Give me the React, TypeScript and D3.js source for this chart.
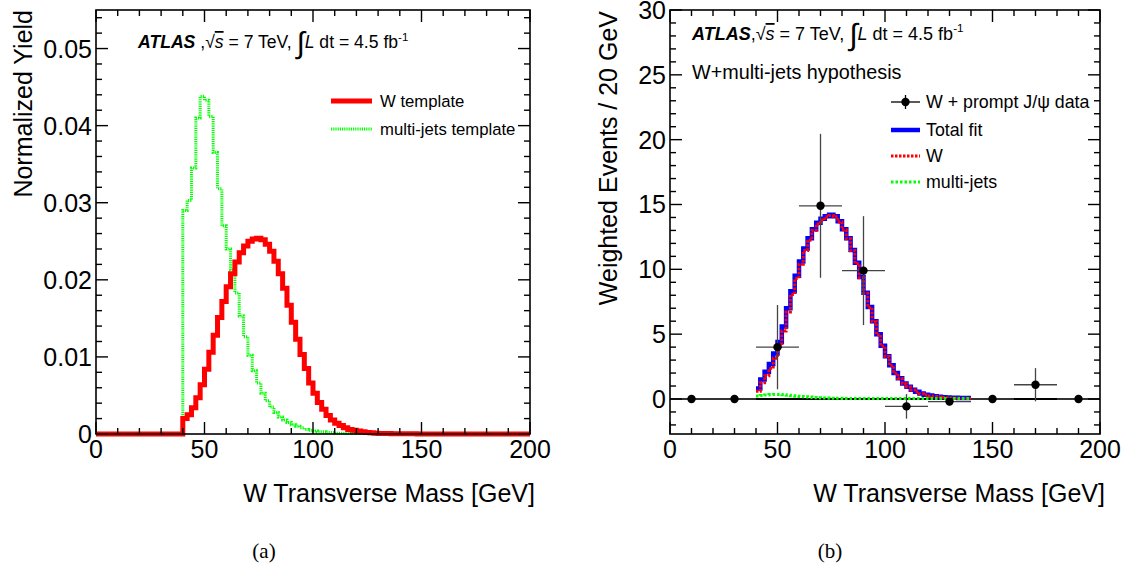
import React from 'react';
import * as d3 from 'd3';

const FONT = '"Liberation Sans", Arial, Helvetica, sans-serif';
const SERIF = '"Liberation Serif", "Times New Roman", serif';

// ---------- Panel (a): normalized templates, 2 GeV bins starting at 40 GeV ----------
const templateStart = 40;
const templateWidth = 2;
const wTemplate = [
  0.0020, 0.0025, 0.0034, 0.0047, 0.0064, 0.0084, 0.0106, 0.0128, 0.0151, 0.0172,
  0.0191, 0.0208, 0.0223, 0.0235, 0.0244, 0.0250, 0.0253, 0.0254, 0.0252, 0.0246,
  0.0237, 0.0224, 0.0208, 0.0189, 0.0167, 0.0145, 0.0123, 0.0103, 0.0085, 0.0066,
  0.0053, 0.0041, 0.0032, 0.0024, 0.0018, 0.0014, 0.0011, 0.0008, 0.0006, 0.0005,
  0.0004, 0.0003, 0.0002, 0.00015, 0.0001, 0.00008, 0.00006, 0.00005, 0.00004, 0.00003,
  0.00003, 0.00002, 0.00002, 0.00002, 0.00001, 0.00001, 0.00001, 0.00001, 0, 0,
  0, 0, 0, 0, 0, 0, 0, 0, 0, 0,
  0, 0, 0, 0, 0, 0, 0, 0, 0, 0,
];
const multijetTemplate = [
  0.0290, 0.0303, 0.0345, 0.0410, 0.0438, 0.0433, 0.0412, 0.0365, 0.0318, 0.0270,
  0.0240, 0.0213, 0.0183, 0.0153, 0.0126, 0.0102, 0.0082, 0.0066, 0.0053, 0.0043,
  0.0035, 0.0028, 0.0022, 0.0018, 0.0015, 0.0012, 0.0010, 0.0008, 0.0006, 0.0005,
  0.0004, 0.0003, 0.0003, 0.0002, 0.0002, 0.0001, 0.0001, 0.0001, 0.0001, 0.00008,
  0.00006, 0.00005, 0.00005, 0.00004, 0.00004, 0.00003, 0.00003, 0.00003, 0.00002, 0.00002,
  0.00002, 0.00002, 0.00002, 0.00001, 0.00001, 0.00001, 0.00001, 0.00001, 0.00001, 0.00001,
  0.00001, 0.00001, 0.00001, 0.00001, 0.00001, 0, 0, 0, 0, 0,
  0, 0, 0, 0, 0, 0, 0, 0, 0, 0,
];
const yieldTicks = [0, 0.01, 0.02, 0.03, 0.04, 0.05];
const yieldTickLabels = ['0', '0.01', '0.02', '0.03', '0.04', '0.05'];

// ---------- Panel (b): fit result, 2 GeV bins from 40 to 140 GeV ----------
const fitStart = 40;
const fitWidth = 2;
const fitTotal = [
  0.8, 1.5, 2.1, 2.7, 3.5, 4.4, 5.6, 7.0, 8.3, 9.5,
  10.6, 11.6, 12.4, 13.1, 13.6, 13.9, 14.1, 14.2, 14.1, 13.7,
  13.1, 12.4, 11.5, 10.5, 9.4, 8.2, 7.1, 6.0, 5.0, 4.1,
  3.3, 2.6, 2.0, 1.6, 1.2, 0.95, 0.72, 0.55, 0.42, 0.33,
  0.26, 0.21, 0.17, 0.14, 0.12, 0.10, 0.09, 0.08, 0.07, 0.07,
];
const fitW = [
  0.6, 1.25, 1.8, 2.35, 3.15, 4.05, 5.25, 6.7, 8.05, 9.3,
  10.4, 11.45, 12.25, 13.0, 13.5, 13.8, 14.05, 14.15, 14.05, 13.65,
  13.05, 12.35, 11.45, 10.45, 9.35, 8.15, 7.05, 5.95, 4.95, 4.07,
  3.27, 2.58, 1.98, 1.58, 1.18, 0.93, 0.70, 0.53, 0.40, 0.31,
  0.24, 0.19, 0.15, 0.12, 0.10, 0.08, 0.07, 0.06, 0.05, 0.05,
];
const fitMultijets = [
  0.24, 0.27, 0.31, 0.34, 0.35, 0.35, 0.33, 0.29, 0.25, 0.22,
  0.19, 0.17, 0.15, 0.12, 0.10, 0.08, 0.07, 0.06, 0.05, 0.05,
  0.04, 0.04, 0.04, 0.04, 0.04, 0.04, 0.04, 0.04, 0.04, 0.04,
  0.04, 0.04, 0.04, 0.04, 0.04, 0.04, 0.04, 0.04, 0.04, 0.04,
  0.04, 0.04, 0.04, 0.04, 0.04, 0.04, 0.04, 0.04, 0.04, 0.04,
];
const dataMass = [10, 30, 50, 70, 90, 110, 130, 150, 170, 190];
const dataEvents = [0, 0, 4.0, 14.9, 9.9, -0.57, -0.2, 0, 1.1, 0];
const dataError = [0, 0, 3.25, 5.55, 4.2, 0.95, 0.3, 0, 1.28, 0];
const dataHalfWidth = 10;
const eventTicks = [0, 5, 10, 15, 20, 25, 30];
const massTicks = [0, 50, 100, 150, 200];

type Scale = d3.ScaleLinear<number, number>;

function stepPath(values: number[], start: number, width: number, x: Scale, y: Scale, padFrom?: number, padTo?: number) {
  const pts: [number, number][] = [];
  if (padFrom !== undefined) {
    pts.push([x(padFrom), y(0)], [x(start), y(0)]);
  }
  values.forEach((v, i) => {
    pts.push([x(start + i * width), y(v)], [x(start + (i + 1) * width), y(v)]);
  });
  if (padTo !== undefined) {
    const end = start + values.length * width;
    pts.push([x(end), y(0)], [x(padTo), y(0)]);
  }
  return d3.line()(pts) || '';
}

function Frame({ x, y, yMajor, yMinor, yLabels }: { x: Scale; y: Scale; yMajor: number[]; yMinor: number[]; yLabels: string[] }) {
  const [x0, x1] = x.range();
  const [y0, y1] = y.range(); // y0 bottom, y1 top
  const major = 12;
  const minor = 6;
  const xMinor = d3.range(0, 201, 10);
  const sw = 1.4;
  return (
    <g>
      <rect x={x0} y={y1} width={x1 - x0} height={y0 - y1} fill="none" stroke="#000" strokeWidth={1.6} />
      {xMinor.map((v) => {
        const isMajor = v % 50 === 0;
        const L = isMajor ? major : minor;
        return (
          <g key={'xt' + v}>
            <line x1={x(v)} x2={x(v)} y1={y0} y2={y0 - L} stroke="#000" strokeWidth={sw} />
            <line x1={x(v)} x2={x(v)} y1={y1} y2={y1 + L} stroke="#000" strokeWidth={sw} />
          </g>
        );
      })}
      {yMinor.map((v, i) => (
        <g key={'ym' + i}>
          <line x1={x0} x2={x0 + minor} y1={y(v)} y2={y(v)} stroke="#000" strokeWidth={sw} />
          <line x1={x1} x2={x1 - minor} y1={y(v)} y2={y(v)} stroke="#000" strokeWidth={sw} />
        </g>
      ))}
      {yMajor.map((v, i) => (
        <g key={'yM' + i}>
          <line x1={x0} x2={x0 + major} y1={y(v)} y2={y(v)} stroke="#000" strokeWidth={sw} />
          <line x1={x1} x2={x1 - major} y1={y(v)} y2={y(v)} stroke="#000" strokeWidth={sw} />
          <text x={x0 - 4} y={y(v)} dy="0.36em" textAnchor="end" fontSize={25}>{yLabels[i]}</text>
        </g>
      ))}
      {massTicks.map((v) => (
        <text key={'xl' + v} x={x(v)} y={458} textAnchor="middle" fontSize={25}>{v}</text>
      ))}
      <text x={x1 + 5} y={502} textAnchor="end" fontSize={25}>W Transverse Mass [GeV]</text>
    </g>
  );
}

function AtlasLabel({ x, y, spaced, size }: { x: number; y: number; spaced: boolean; size: number }) {
  return (
    <text x={x} y={y} fontSize={size}>
      <tspan fontWeight="bold" fontStyle="italic">ATLAS</tspan>
      <tspan>{spaced ? '\u00a0,' : ','}</tspan>
      <tspan>{'\u221a'}</tspan>
      <tspan fontStyle="italic" style={{ textDecoration: 'overline' }}>s</tspan>
      <tspan>{' = 7 TeV, '}</tspan>
      <tspan fontSize={size * 1.7} dy={size * 0.3}>{'\u222b'}</tspan>
      <tspan fontStyle="italic" dy={-size * 0.3}>L</tspan>
      <tspan>{' dt = 4.5 fb'}</tspan>
      <tspan fontSize={size * 0.65} dy={-size * 0.42}>-1</tspan>
    </text>
  );
}

function LeftPanel() {
  const x = d3.scaleLinear().domain([0, 200]).range([96, 530]);
  const y = d3.scaleLinear().domain([0, 0.055]).range([434, 10]);
  const yMinor = d3.range(0, 0.0551, 0.002).filter((v) => Math.abs(v / 0.01 - Math.round(v / 0.01)) > 1e-6);
  const green = stepPath(multijetTemplate, templateStart, templateWidth, x, y, 0, 200);
  const red = stepPath(wTemplate, templateStart, templateWidth, x, y, 0, 200);
  return (
    <g>
      <path d={green} fill="none" stroke="#00ff00" strokeWidth={3} strokeDasharray="1.2,1" />
      <path d={red} fill="none" stroke="#ff0000" strokeWidth={5} strokeLinejoin="miter" />
      <Frame x={x} y={y} yMajor={yieldTicks} yMinor={yMinor} yLabels={yieldTickLabels} />
      <text transform="translate(32,10) rotate(-90)" textAnchor="end" fontSize={25}>Normalized Yield</text>
      <AtlasLabel x={138} y={48} spaced={true} size={17.6} />
      <line x1={331} x2={372} y1={101} y2={101} stroke="#ff0000" strokeWidth={5} />
      <text x={380} y={101} dy="0.36em" fontSize={16.7}>W template</text>
      <line x1={331} x2={372} y1={129} y2={129} stroke="#00ff00" strokeWidth={3} strokeDasharray="1.2,1" />
      <text x={380} y={129} dy="0.36em" fontSize={16.7}>multi-jets template</text>
    </g>
  );
}

function RightPanel() {
  const x = d3.scaleLinear().domain([0, 200]).range([670, 1100]);
  const y = d3.scaleLinear().domain([-2.7, 30]).range([434, 10]);
  const yMinor = d3.range(-2, 31, 1).filter((v) => v % 5 !== 0);
  const total = stepPath(fitTotal, fitStart, fitWidth, x, y);
  const wPath = stepPath(fitW, fitStart, fitWidth, x, y);
  const mj = stepPath(fitMultijets, fitStart, fitWidth, x, y);
  const errColor = '#444';
  const lg = 17.8;
  return (
    <g>
      <line x1={x(0)} x2={x(200)} y1={y(0)} y2={y(0)} stroke="#000" strokeWidth={2} />
      <path d={total} fill="none" stroke="#0000ff" strokeWidth={4.5} />
      <path d={wPath} fill="none" stroke="#ff0000" strokeWidth={3} strokeDasharray="2.5,1.5" />
      <path d={mj} fill="none" stroke="#00ff00" strokeWidth={3} strokeDasharray="2.5,2" />
      {dataMass.map((m, i) => (
        <g key={'d' + i}>
          <line x1={x(m - dataHalfWidth)} x2={x(m + dataHalfWidth)} y1={y(dataEvents[i])} y2={y(dataEvents[i])} stroke={errColor} strokeWidth={1.3} />
          {dataError[i] > 0 && (
            <line x1={x(m)} x2={x(m)} y1={y(dataEvents[i] - dataError[i])} y2={y(dataEvents[i] + dataError[i])} stroke={errColor} strokeWidth={1.3} />
          )}
          <circle cx={x(m)} cy={y(dataEvents[i])} r={4.2} fill="#000" />
        </g>
      ))}
      <Frame x={x} y={y} yMajor={eventTicks} yMinor={yMinor} yLabels={eventTicks.map(String)} />
      <text transform="translate(617,11) rotate(-90)" textAnchor="end" fontSize={25}>Weighted Events / 20 GeV</text>
      <AtlasLabel x={692} y={40} spaced={false} size={18} />
      <text x={692} y={79} fontSize={19.8}>W+multi-jets hypothesis</text>
      {/* legend */}
      <line x1={891} x2={920} y1={102} y2={102} stroke="#000" strokeWidth={1.3} />
      <line x1={905.5} x2={905.5} y1={95} y2={109} stroke="#000" strokeWidth={1.3} />
      <circle cx={905.5} cy={102} r={4.2} fill="#000" />
      <text x={926} y={102} dy="0.36em" fontSize={lg}>W + prompt J/{'\u03c8'} data</text>
      <line x1={891} x2={920} y1={130} y2={130} stroke="#0000ff" strokeWidth={4.5} />
      <text x={926} y={130} dy="0.36em" fontSize={lg}>Total fit</text>
      <line x1={891} x2={920} y1={156} y2={156} stroke="#ff0000" strokeWidth={3} strokeDasharray="2.5,1.5" />
      <text x={926} y={156} dy="0.36em" fontSize={lg}>W</text>
      <line x1={891} x2={920} y1={182} y2={182} stroke="#00ff00" strokeWidth={3} strokeDasharray="2.5,2" />
      <text x={926} y={182} dy="0.36em" fontSize={lg}>multi-jets</text>
    </g>
  );
}

export default function App() {
  return (
    <svg
      width={1141}
      height={570}
      viewBox="0 0 1141 570"
      style={{ position: 'absolute', left: 0, top: 0, background: '#fff' }}
      fontFamily={FONT}
    >
      <rect x={0} y={0} width={1141} height={570} fill="#fff" />
      <LeftPanel />
      <RightPanel />
      <text x={264} y={558} textAnchor="middle" fontFamily={SERIF} fontSize={21}>(a)</text>
      <text x={830} y={558} textAnchor="middle" fontFamily={SERIF} fontSize={21}>(b)</text>
    </svg>
  );
}
